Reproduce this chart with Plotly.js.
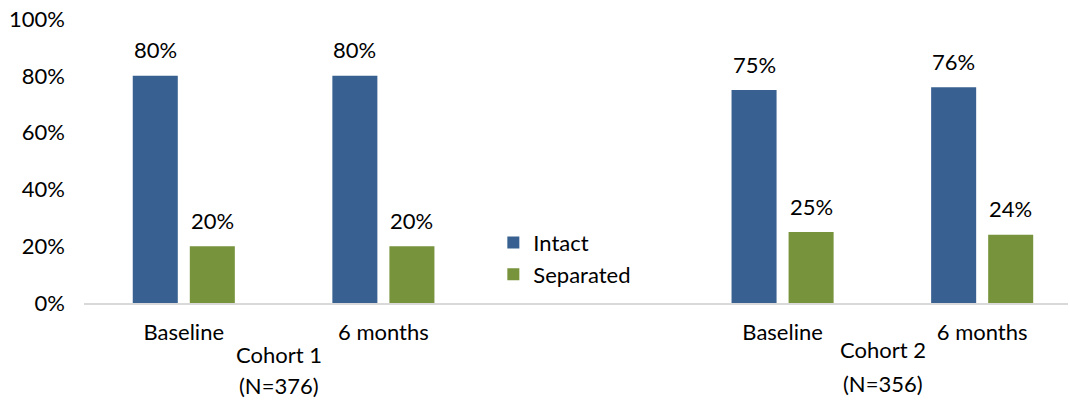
<!DOCTYPE html>
<html>
<head>
<meta charset="utf-8">
<script src="https://cdn.plot.ly/plotly-3.0.1.min.js"></script>
<style>html,body{margin:0;padding:0;background:#fff;}#chart{width:1070px;height:402px;}</style>
</head>
<body>
<div id="chart"></div>
<script>
// Data
const categories = ["Baseline", "6 months", "Baseline", "6 months"];
const categoryPositions = [0, 1, 3, 4];
const intact = [80, 80, 75, 76];
const separated = [20, 20, 25, 24];
const cohortNames = ["Cohort 1", "Cohort 2"];
const cohortSizes = ["(N=376)", "(N=356)"];
const cohortPositions = [0.5, 3.5];
const yTicks = [0, 20, 40, 60, 80, 100];
const yTickText = ["0%", "20%", "40%", "60%", "80%", "100%"];

const FONT = "Lato, 'Liberation Sans', sans-serif";
const FS = 22;
const barW = 0.2256;
const innerGap = 0.0301;
const colIntact = "#386090";
const colSep = "#77933C";

const traces = [
  {
    type: "bar", name: "Intact", x: categoryPositions, y: intact,
    width: barW, offset: -(barW + innerGap),
    marker: {color: colIntact, line: {width: 0}},
    hoverinfo: "skip"
  },
  {
    type: "bar", name: "Separated", x: categoryPositions, y: separated,
    width: barW, offset: innerGap,
    marker: {color: colSep, line: {width: 0}},
    hoverinfo: "skip"
  }
];

const annotations = [];
categoryPositions.forEach((p, i) => {
  annotations.push({x: p - (barW / 2 + innerGap), y: intact[i], xref: "x", yref: "y",
    text: intact[i] + "%", showarrow: false, yanchor: "middle", yshift: 26,
    font: {family: FONT, size: FS, color: "#000"}});
  annotations.push({x: p + (barW / 2 + innerGap), y: separated[i], xref: "x", yref: "y",
    text: separated[i] + "%", showarrow: false, yanchor: "middle", yshift: 26,
    font: {family: FONT, size: FS, color: "#000"}});
});
// pixel-based vertical placement below the axis (axis at 303px, plot height 284px)
const nameY = [354, 349];
const sizeY = [385, 383];
const cohortShift = [-5, 1];
cohortNames.forEach((t, i) => {
  annotations.push({x: cohortPositions[i], y: (303 - nameY[i]) / 284, xref: "x", yref: "paper",
    text: t, showarrow: false, yanchor: "middle", xshift: cohortShift[i],
    font: {family: FONT, size: FS, color: "#000"}});
  annotations.push({x: cohortPositions[i], y: (303 - sizeY[i]) / 284, xref: "x", yref: "paper",
    text: cohortSizes[i], showarrow: false, yanchor: "middle", xshift: cohortShift[i],
    font: {family: FONT, size: FS, color: "#000"}});
});

const layout = {
  width: 1070, height: 402,
  margin: {l: 84, r: 2, t: 19, b: 99},
  paper_bgcolor: "#fff", plot_bgcolor: "#fff",
  font: {family: FONT, size: FS, color: "#000"},
  showlegend: true,
  legend: {x: 0.416, y: 0.286, xanchor: "left", yanchor: "top",
    bgcolor: "rgba(0,0,0,0)", font: {family: FONT, size: FS, color: "#000"},
    itemclick: false},
  xaxis: {
    range: [-0.5, 4.43], tickmode: "array", tickvals: categoryPositions, ticktext: categories,
    showgrid: false, zeroline: false, showline: true, linecolor: "#d9d9d9", linewidth: 1.5,
    ticks: "", ticklabelstandoff: 9, fixedrange: true
  },
  yaxis: {
    range: [0, 100], tickmode: "array", tickvals: yTicks, ticktext: yTickText,
    showgrid: false, zeroline: false, showline: false, ticks: "",
    ticklabelstandoff: 18, fixedrange: true
  },
  annotations: annotations
};

Plotly.newPlot("chart", traces, layout, {staticPlot: true, displayModeBar: false});
</script>
</body>
</html>
